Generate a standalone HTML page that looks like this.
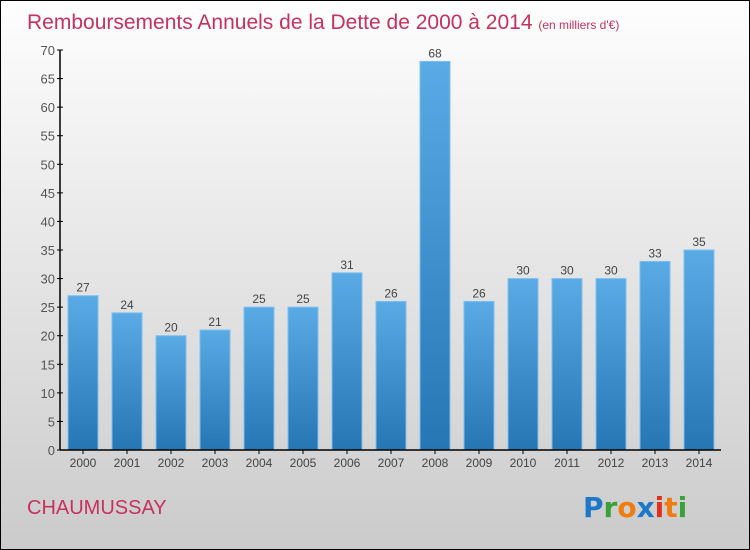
<!DOCTYPE html>
<html><head><meta charset="utf-8"><style>
body{margin:0}
#c{width:748px;height:548px;border:1px solid #000;background:linear-gradient(#fefefe,#cbcbcb);position:relative;font-family:"Liberation Sans",sans-serif;overflow:hidden}
</style></head><body>
<div id="c">
<svg id="s" width="748" height="548">
<defs><linearGradient id="g" x1="0" y1="0" x2="0" y2="1"><stop offset="0" stop-color="#5aaae6"/><stop offset="1" stop-color="#2676b4"/></linearGradient></defs>
<text x="26" y="28" font-size="21" fill="#c8305e">Remboursements Annuels de la Dette de 2000 à 2014 <tspan font-size="12">(en milliers d'€)</tspan></text>
<text x="26" y="513" font-size="20" fill="#c8305e">CHAUMUSSAY</text>
<g font-size="28" font-weight="bold" font-family="DejaVu Sans, sans-serif"><text x="582" y="516"><tspan fill="#1e78c8">P</tspan><tspan fill="#3aa03a">r</tspan><tspan fill="#f07c10">o</tspan><tspan fill="#1e78c8">x</tspan><tspan fill="#e03020">i</tspan><tspan fill="#f07c10">t</tspan><tspan fill="#3aa03a">i</tspan></text></g>
</svg></div>
<script>
const years=["2000","2001","2002","2003","2004","2005","2006","2007","2008","2009","2010","2011","2012","2013","2014"];
const values=[27,24,20,21,25,25,31,26,68,26,30,30,30,33,35];
const yTicks=[0,5,10,15,20,25,30,35,40,45,50,55,60,65,70];
const s=document.getElementById('s');const NS="http://www.w3.org/2000/svg";
const x0=59,y0=449,yTop=49,yMax=70,step=44;
const y=v=>y0-(y0-yTop)*v/yMax;const xc=i=>x0+23+i*step;
function mk(t,a,p){const e=document.createElementNS(NS,t);for(const k in a)e.setAttribute(k,a[k]);(p||s).appendChild(e);return e;}
yTicks.forEach(t=>{
const l=mk('line',{x1:x0-3,x2:x0+3,y1:y(t),y2:y(t),stroke:'#000'});


const tx=mk('text',{x:x0-5,y:y(t)+5,'font-size':13,fill:'#555','text-anchor':'end'});tx.textContent=t;


});
values.forEach((v,i)=>{
const r=mk('rect',{x:xc(i)-15,y:y(v),width:30,height:y0-y(v),fill:'url(#g)',stroke:'#7cc0f0','stroke-width':1});


const t=mk('text',{x:xc(i),y:y(v)-4,'font-size':12,fill:'#444','text-anchor':'middle'});t.textContent=v;


const k=mk('line',{x1:xc(i),x2:xc(i),y1:y0,y2:y0+4,stroke:'#000'});


const yl=mk('text',{x:xc(i),y:y0+17,'font-size':12,fill:'#444','text-anchor':'middle'});yl.textContent=years[i];


});
const ya=mk('line',{x1:x0,x2:x0,y1:yTop,y2:y0,stroke:'#000','stroke-width':1.5});


const xa=mk('line',{x1:x0,x2:720,y1:y0,y2:y0,stroke:'#000','stroke-width':1.5});


</script></body></html>
